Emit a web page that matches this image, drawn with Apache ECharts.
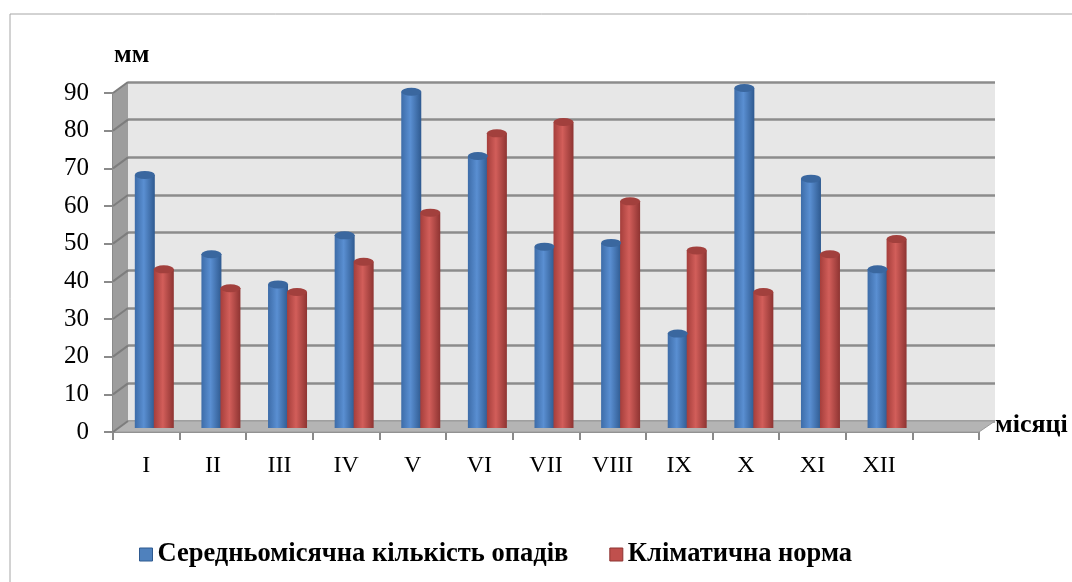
<!DOCTYPE html>
<html><head><meta charset="utf-8">
<script src="https://cdn.jsdelivr.net/npm/echarts@6/dist/echarts.min.js"></script>
<style>html,body{margin:0;padding:0;background:#fff}#c{width:1072px;height:582px}</style>
</head><body><div id="c"></div>
<script>
var months = ['I','II','III','IV','V','VI','VII','VIII','IX','X','XI','XII',''];
var precip = [67, 46, 38, 51, 89, 72, 48, 49, 25, 90, 66, 42, null];
var norm   = [42, 37, 36, 44, 57, 78, 81, 60, 47, 36, 46, 50, null];
var seriesNames = ['Середньомісячна кількість опадів', 'Кліматична норма'];
var yTicks = [0,10,20,30,40,50,60,70,80,90];

var FONT = 'Liberation Serif';
function cyl(c1, c2, c3) {
  return {type:'linear', x:0, y:0, x2:1, y2:0, colorStops:[
    {offset:0, color:c1},{offset:0.45, color:c2},{offset:1, color:c3}]};
}
var blueFill = cyl('#3d6ca8', '#5a8fd2', '#2f5a90');
var redFill = cyl('#a53e3b', '#d25e5a', '#8e3432');

var chart = echarts.init(document.getElementById('c'));
var option = {
  animation:false,
  backgroundColor:'#fff',
  grid:[
    {left:128, right:77, top:82, bottom:161, show:true, backgroundColor:'#e7e7e7', borderWidth:0},
    {left:113, right:93, top:93, bottom:150},
    {left:121, right:85, top:88, bottom:154}
  ],
  xAxis:[
    {gridIndex:0, type:'category', data:months, show:false},
    {gridIndex:1, type:'category', data:months, boundaryGap:true,
     axisLine:{lineStyle:{color:'#8a8a8a', width:2}},
     axisTick:{show:true, length:8, lineStyle:{color:'#8a8a8a', width:2}},
     axisLabel:{color:'#000', fontFamily:FONT, fontSize:24, margin:22, interval:0}},
    {gridIndex:2, type:'category', data:months, show:false}
  ],
  yAxis:[
    {gridIndex:0, type:'value', min:0, max:90, interval:10, axisLine:{show:false}, axisTick:{show:false}, axisLabel:{show:false},
     splitLine:{lineStyle:{color:'#8c8c8c', width:2.5}}},
    {gridIndex:1, type:'value', min:0, max:90, interval:10,
     axisLine:{show:true, lineStyle:{color:'#8a8a8a', width:2}},
     axisTick:{show:true, length:9, lineStyle:{color:'#8a8a8a', width:2}},
     axisLabel:{color:'#000', fontFamily:FONT, fontSize:25, margin:24},
     splitLine:{show:false}},
    {gridIndex:2, type:'value', min:0, max:90, interval:10, show:false, splitLine:{show:false}}
  ],
  legend:{
    left:139, top:541, padding:0, itemWidth:13, itemHeight:13, itemGap:41,
    icon:'rect',
    textStyle:{fontFamily:FONT, fontSize:26.5, fontWeight:'bold', color:'#000'},
    data:[
      {name:seriesNames[0], itemStyle:{color:'#4f81bd', borderColor:'#2f5a90', borderWidth:1}},
      {name:seriesNames[1], itemStyle:{color:'#c0504d', borderColor:'#8e3432', borderWidth:1}}
    ]
  },
  graphic:[
    {type:'rect', shape:{x:10, y:14, width:1070, height:580}, style:{fill:'none', stroke:'#a6a6a6', lineWidth:1}, z:-10},
    {type:'polygon', shape:{points:[[113,432],[979,432],[995,421],[128,421]]}, style:{fill:'#b4b4b4', stroke:'#9a9a9a'}, z:1},
    {type:'polygon', shape:{points:[[113,432],[128,421],[128,82],[113,93]]}, style:{fill:'#9d9d9d'}, z:1},
    {type:'text', left:114, top:42, style:{text:'мм', fontFamily:FONT, fontWeight:'bold', fontSize:26, fill:'#000'}},
    {type:'text', left:995, top:412, style:{text:'місяці', fontFamily:FONT, fontWeight:'bold', fontSize:26, fill:'#000'}}
  ],
  series:[
    {name:seriesNames[0], type:'bar', xAxisIndex:2, yAxisIndex:2, data:precip, barWidth:20, barGap:'-5%',
     itemStyle:{color:blueFill}, z:5},
    {name:seriesNames[1], type:'bar', xAxisIndex:2, yAxisIndex:2, data:norm, barWidth:20, barGap:'-5%',
     itemStyle:{color:redFill}, z:5},
    {name:seriesNames[0], type:'pictorialBar', xAxisIndex:2, yAxisIndex:2, data:precip, symbol:'circle',
     symbolSize:[20,8], symbolPosition:'end', symbolOffset:[-9.5,'-50%'], itemStyle:{color:'#3a679f'}, z:6, legendHoverLink:false},
    {name:seriesNames[1], type:'pictorialBar', xAxisIndex:2, yAxisIndex:2, data:norm, symbol:'circle',
     symbolSize:[20,8], symbolPosition:'end', symbolOffset:[9.5,'-50%'], itemStyle:{color:'#a2403d'}, z:6, legendHoverLink:false}
  ]
};
chart.setOption(option);
// diagonal grid lines across the left side wall
var extra = [];
yTicks.forEach(function(v){
  var f = chart.convertToPixel({xAxisIndex:1, yAxisIndex:1}, [0, v]);
  var b = chart.convertToPixel({xAxisIndex:0, yAxisIndex:0}, [0, v]);
  extra.push({type:'line', shape:{x1:113, y1:f[1], x2:128, y2:b[1]}, style:{stroke:'#7d7d7d', lineWidth:2}, z:2});
});
option.graphic = option.graphic.concat(extra);
chart.setOption({graphic: option.graphic});
</script>
</body></html>
